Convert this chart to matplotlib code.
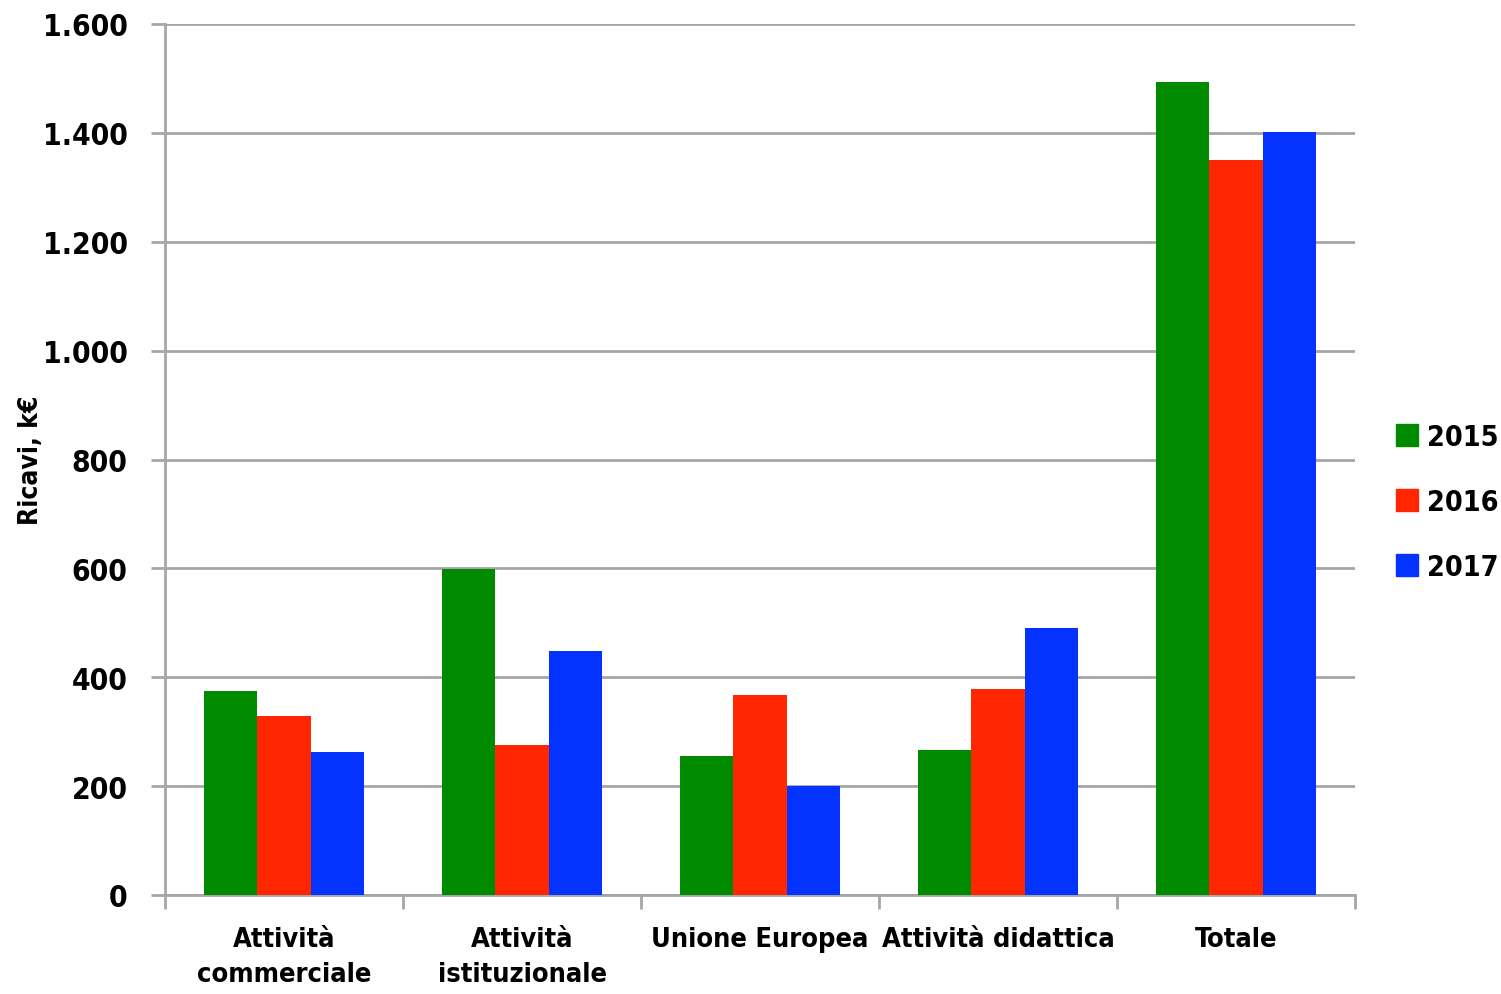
import numpy as np
import matplotlib.pyplot as plt
from matplotlib.patches import Patch

categorie = ["Attività\ncommerciale", "Attività\nistituzionale", "Unione Europea",
             "Attività didattica", "Totale"]
anni = ["2015", "2016", "2017"]
ricavi_2015 = [375, 599, 255, 266, 1493]
ricavi_2016 = [329, 275, 367, 378, 1350]
ricavi_2017 = [263, 448, 200, 490, 1401]
colori = ["#008A00", "#FF2600", "#0433FF"]

plt.rcParams['font.family'] = ['DejaVu Sans']
plt.rcParams['font.stretch'] = 'condensed'
plt.rcParams['font.weight'] = 'bold'

fig = plt.figure(figsize=(15.01, 9.95), dpi=100)
ax = fig.add_axes([165 / 1501, 1 - 896 / 995, (1355 - 165) / 1501, (896 - 25) / 995])

x = np.arange(len(categorie))
width = 0.225
grigio = "#A6A6A6"

for i, valori in enumerate([ricavi_2015, ricavi_2016, ricavi_2017]):
    ax.bar(x + (i - 1) * width, valori, width, color=colori[i], zorder=3)

ax.set_xlim(-0.5, len(categorie) - 0.5)
ax.set_ylim(0, 1600)
ax.set_yticks(np.arange(0, 1601, 200))
ax.set_yticklabels([f"{v:,}".replace(",", ".") for v in range(0, 1601, 200)],
                   fontsize=21.5, fontweight='bold')
ax.yaxis.grid(True, color=grigio, linewidth=2, zorder=0)

ax.set_xticks(x)
ax.set_xticklabels(categorie, fontsize=19.5, fontweight='bold', linespacing=1.45)
ax.tick_params(axis='x', which='major', length=0, pad=22)
ax.set_xticks(np.arange(-0.5, len(categorie)), minor=True)
ax.tick_params(axis='x', which='minor', length=10, width=2, color=grigio, direction='out')
ax.tick_params(axis='y', length=10, width=2, color=grigio, pad=17)

for s in ['top', 'right']:
    ax.spines[s].set_visible(False)
for s in ['left', 'bottom']:
    ax.spines[s].set_color(grigio)
    ax.spines[s].set_linewidth(2)

ax.set_ylabel("Ricavi, k€", fontsize=19, fontweight='bold')
ax.yaxis.set_label_coords(-0.102, 0.5)

handles = [Patch(color=c, label=a) for c, a in zip(colori, anni)]
fig.legend(handles=handles, loc='center left', bbox_to_anchor=(1396 / 1501, 1 - 503 / 995),
           frameon=False, handlelength=0.78, handleheight=0.78,
           handletextpad=0.3, labelspacing=1.3, borderaxespad=0, borderpad=0,
           prop={'weight': 'bold', 'size': 20.5, 'stretch': 'condensed'})

fig.savefig("out.png", dpi=100)
